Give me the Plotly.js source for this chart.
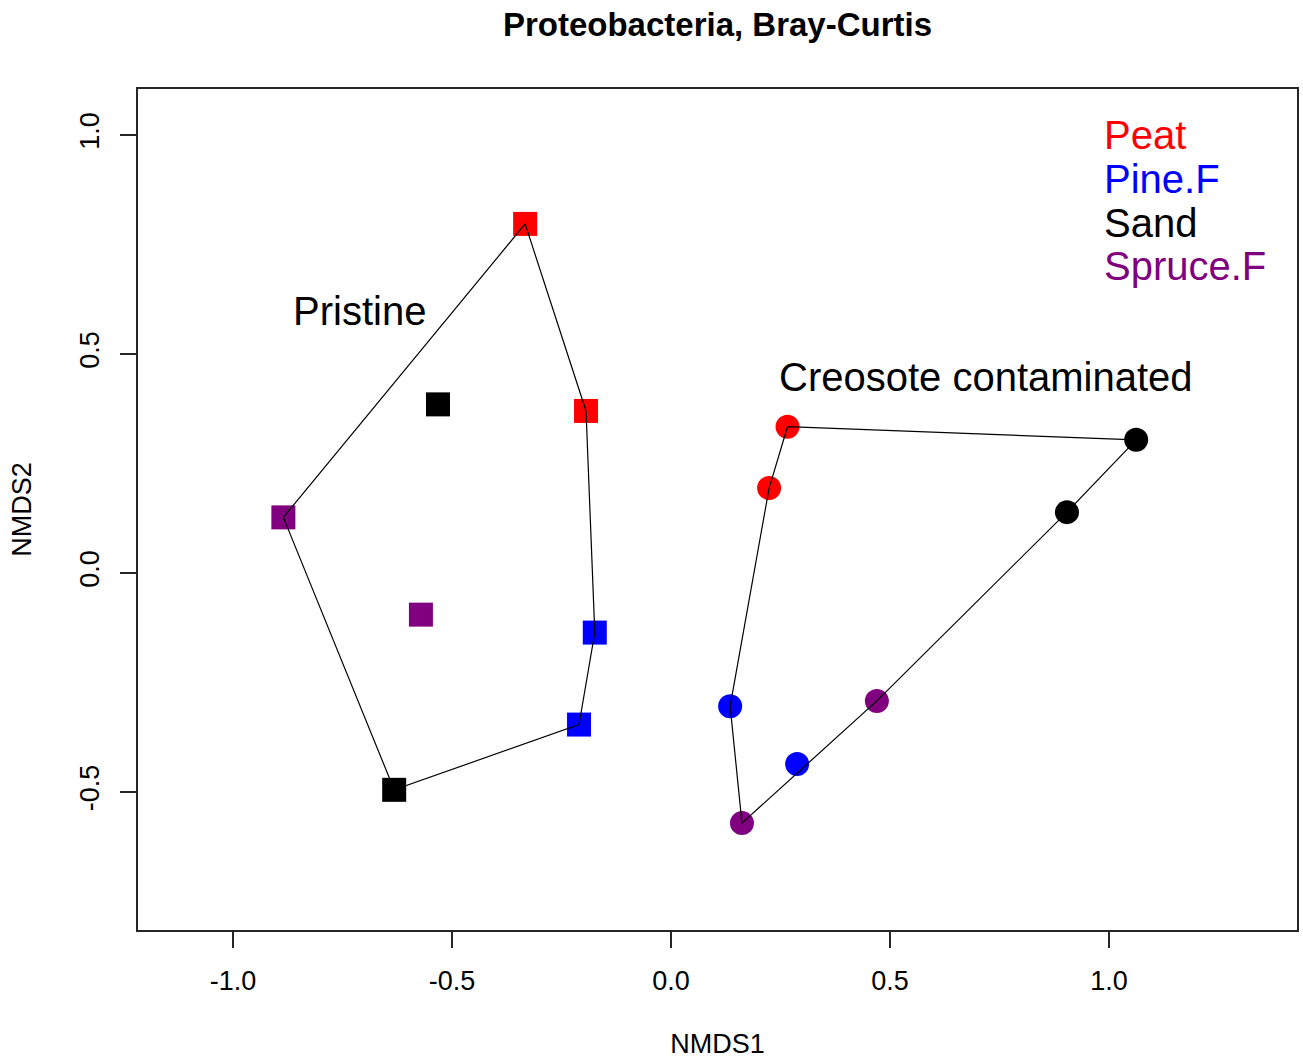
<!DOCTYPE html>
<html>
<head>
<meta charset="utf-8">
<script src="https://cdn.plot.ly/plotly-3.0.1.min.js"></script>
<style>html,body{margin:0;padding:0;background:#fff;}#chart{width:1303px;height:1059px;}</style>
</head>
<body>
<div id="chart"></div>
<script>
// ---- data ----
const soilTypes = ['Peat', 'Pine.F', 'Sand', 'Spruce.F'];
const soilColors = ['#FF0000', '#0000FF', '#000000', '#800080'];

const pristineSoil = ['Peat', 'Peat', 'Sand', 'Sand', 'Pine.F', 'Pine.F', 'Spruce.F', 'Spruce.F'];
const pristineX = [-0.333, -0.194, -0.532, -0.632, -0.174, -0.210, -0.885, -0.571];
const pristineY = [0.797, 0.370, 0.385, -0.495, -0.136, -0.346, 0.127, -0.095];

const creosoteSoil = ['Peat', 'Peat', 'Sand', 'Sand', 'Pine.F', 'Pine.F', 'Spruce.F', 'Spruce.F'];
const creosoteX = [0.266, 0.224, 1.062, 0.904, 0.135, 0.288, 0.470, 0.162];
const creosoteY = [0.334, 0.194, 0.304, 0.139, -0.304, -0.436, -0.292, -0.571];

const xTickVals = [-1.0, -0.5, 0.0, 0.5, 1.0];
const xTickText = ['-1.0', '-0.5', '0.0', '0.5', '1.0'];
const yTickVals = [-0.5, 0.0, 0.5, 1.0];
const yTickText = ['-0.5', '0.0', '0.5', '1.0'];

const groupLabels = ['Pristine', 'Creosote contaminated'];
const groupLabelX = [-0.712, 0.719];
const groupLabelY = [0.598, 0.447];

const legendY = [1.0, 0.9, 0.8, 0.7];
const legendX = 0.984;

// ---- helpers ----
function colorOf(s) { return soilColors[soilTypes.indexOf(s)]; }

function convexHull(xs, ys) {
  const pts = xs.map((x, i) => [x, ys[i]]).sort((a, b) => a[0] - b[0] || a[1] - b[1]);
  const cross = (o, a, b) => (a[0] - o[0]) * (b[1] - o[1]) - (a[1] - o[1]) * (b[0] - o[0]);
  const lower = [];
  for (const p of pts) {
    while (lower.length >= 2 && cross(lower[lower.length - 2], lower[lower.length - 1], p) <= 0) lower.pop();
    lower.push(p);
  }
  const upper = [];
  for (let i = pts.length - 1; i >= 0; i--) {
    const p = pts[i];
    while (upper.length >= 2 && cross(upper[upper.length - 2], upper[upper.length - 1], p) <= 0) upper.pop();
    upper.push(p);
  }
  upper.pop(); lower.pop();
  const hull = lower.concat(upper);
  hull.push(hull[0]);
  return { x: hull.map(p => p[0]), y: hull.map(p => p[1]) };
}

const FONT = 'Liberation Sans, Arial, sans-serif';

const hullP = convexHull(pristineX, pristineY);
const hullC = convexHull(creosoteX, creosoteY);

const traces = [
  {
    type: 'scatter', mode: 'markers', x: pristineX, y: pristineY,
    marker: { symbol: 'square', size: 24, color: pristineSoil.map(colorOf), line: { width: 0 } },
    showlegend: false, hoverinfo: 'x+y'
  },
  {
    type: 'scatter', mode: 'markers', x: creosoteX, y: creosoteY,
    marker: { symbol: 'circle', size: 24, color: creosoteSoil.map(colorOf), line: { width: 0 } },
    showlegend: false, hoverinfo: 'x+y'
  },
  {
    type: 'scatter', mode: 'lines', x: hullP.x, y: hullP.y,
    line: { color: '#000000', width: 1.2 }, showlegend: false, hoverinfo: 'skip'
  },
  {
    type: 'scatter', mode: 'lines', x: hullC.x, y: hullC.y,
    line: { color: '#000000', width: 1.2 }, showlegend: false, hoverinfo: 'skip'
  }
];

const annotations = [];
groupLabels.forEach((t, i) => {
  annotations.push({
    x: groupLabelX[i], y: groupLabelY[i], xref: 'x', yref: 'y', text: t, showarrow: false,
    xanchor: 'center', yanchor: 'middle', font: { family: FONT, size: 40, color: '#000' }
  });
});
soilTypes.forEach((t, i) => {
  annotations.push({
    x: legendX, y: legendY[i], xref: 'x', yref: 'y', text: t, showarrow: false,
    xanchor: 'left', yanchor: 'middle', font: { family: FONT, size: 40, color: soilColors[i] }
  });
});

const axisCommon = {
  showgrid: false, zeroline: false, showline: true, mirror: true,
  linecolor: '#262626', linewidth: 2,
  ticks: 'outside', ticklen: 16, tickwidth: 2, tickcolor: '#262626',
  tickmode: 'array', tickfont: { family: FONT, size: 27, color: '#000' }
};

const layout = {
  width: 1303, height: 1059,
  paper_bgcolor: '#ffffff', plot_bgcolor: '#ffffff',
  margin: { l: 138, r: 6, t: 89, b: 129 },
  title: {
    text: '<b>Proteobacteria, Bray-Curtis</b>',
    font: { family: FONT, size: 33, color: '#000' },
    x: 0.5, xref: 'paper', y: 0.977, yref: 'container', yanchor: 'middle'
  },
  xaxis: Object.assign({}, axisCommon, {
    range: [-1.2169, 1.4292], tickvals: xTickVals, ticktext: xTickText,
    ticklabelstandoff: 10,
    title: { text: 'NMDS1', font: { family: FONT, size: 27, color: '#000' }, standoff: 46 }
  }),
  yaxis: Object.assign({}, axisCommon, {
    range: [-0.815, 1.105], tickvals: yTickVals, ticktext: yTickText,
    tickangle: -90, ticklabelstandoff: 10,
    title: { text: 'NMDS2', font: { family: FONT, size: 27, color: '#000' }, standoff: 36 }
  }),
  annotations: annotations,
  showlegend: false
};

Plotly.newPlot('chart', traces, layout, { displayModeBar: false, staticPlot: true });
</script>
</body>
</html>
